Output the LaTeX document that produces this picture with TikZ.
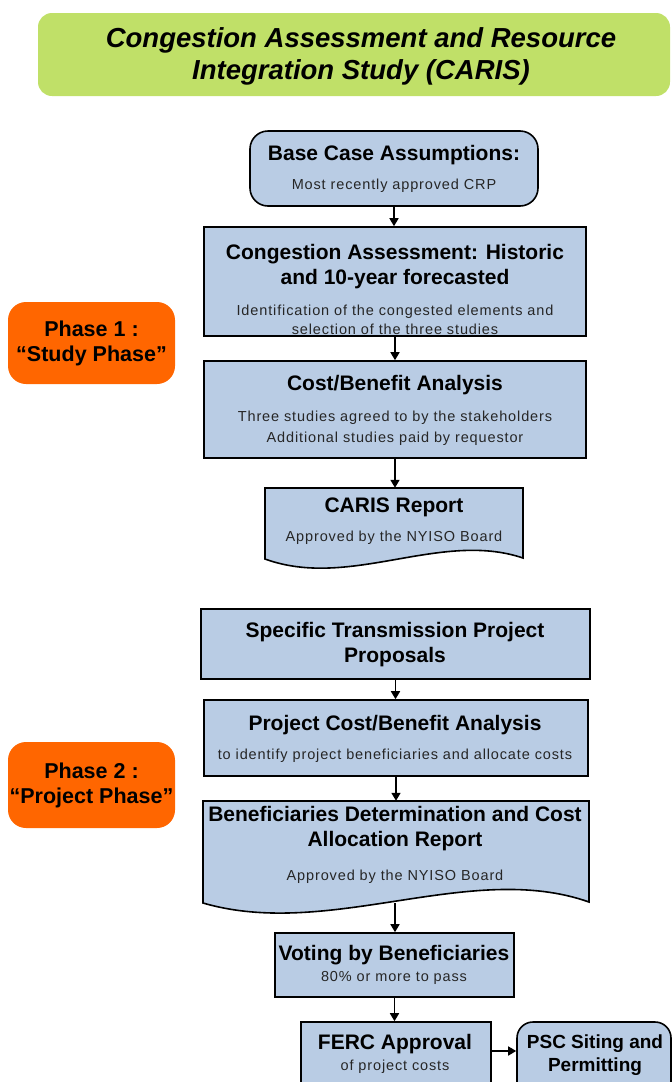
\documentclass[tikz,border=0pt]{standalone}
\usepackage{fontspec}
\setmainfont{Liberation Sans}
\newfontfamily\subfnt[LetterSpace=6]{Liberation Sans}
\usetikzlibrary{arrows.meta}
\definecolor{boxblue}{RGB}{185,204,228}
\definecolor{phaseor}{RGB}{255,102,0}
\definecolor{bannergreen}{RGB}{192,224,104}
\begin{document}
\begin{tikzpicture}[x=1pt,y=-1pt,
  box/.style={draw=black, line width=1.6pt, fill=boxblue, inner sep=0pt},
  ttl/.style={font=\fontsize{21}{25}\selectfont\bfseries, align=center, inner sep=0pt},
  sub/.style={font=\subfnt\fontsize{14.5}{18.5}\selectfont, align=center, inner sep=0pt, text=black!85},
  arr/.style={line width=1.6pt, -{Triangle[length=8pt,width=9pt]}},
  phase/.style={fill=phaseor, rounded corners=18pt, inner sep=0pt, minimum width=167pt,
    font=\fontsize{21.5}{25}\selectfont\bfseries, align=center},
  docline/.style={draw=black, line width=1.6pt, fill=boxblue}]
\useasboundingbox (0,0) rectangle (672,1082);
\clip (0,0) rectangle (672,1082);

% banner
\node[fill=bannergreen, rounded corners=14pt, minimum width=632pt, minimum height=83pt, inner sep=0pt] (banner) at (354,54.5) {};
\node[font=\fontsize{27.5}{32}\selectfont\bfseries\itshape, align=center, inner sep=0pt] (bannerT) at (361,56)
  {Congestion Assessment and Resource\\Integration Study (CARIS)};

% phase labels
\node[phase, minimum height=82pt] (ph1) at (91.5,343) {Phase 1 :\\“Study Phase”};
\node[phase, minimum height=86pt] (ph2) at (91.5,785) {Phase 2 :\\“Project Phase”};

% phase 1 boxes
\node[box, rounded corners=18pt, minimum width=288pt, minimum height=75pt] (base) at (394,168.5) {};
\node[ttl] (baseT) at (394,155) {Base Case Assumptions:};
\node[sub] (baseS) at (394,186) {Most recently approved CRP};

\node[box, minimum width=382pt, minimum height=109pt] (cong) at (395,281.5) {};
\node[ttl] (congT) at (395,266.5) {Congestion Assessment: Historic\\and 10-year forecasted};
\node[sub] (congS) at (395,320) {Identification of the congested elements and\\selection of the three studies};

\node[box, minimum width=382pt, minimum height=97pt] (cost) at (395,409.5) {};
\node[ttl] (costT) at (395,385) {Cost/Benefit Analysis};
\node[sub, font=\subfnt\fontsize{14.5}{21}\selectfont] (costS) at (395,428.5) {Three studies agreed to by the stakeholders\\Additional studies paid by requestor};

\node[inner sep=0pt, minimum width=258pt, minimum height=71pt] (caris) at (394,523.5) {};
\path[docline] (265,488) -- (523,488) -- (523,558) .. controls (440,530) and (350,590) .. (265,559) -- cycle;
\node[ttl] (carisT) at (394,507) {CARIS Report};
\node[sub] (carisS) at (394,538) {Approved by the NYISO Board};

% phase 2 boxes
\node[box, minimum width=389pt, minimum height=70pt] (spec) at (395.5,644) {};
\node[ttl] (specT) at (395,644.5) {Specific Transmission Project\\Proposals};

\node[box, minimum width=384pt, minimum height=76pt] (pcb) at (396,738) {};
\node[ttl] (pcbT) at (395,725) {Project Cost/Benefit Analysis};
\node[sub] (pcbS) at (395,756) {to identify project beneficiaries and allocate costs};

\node[inner sep=0pt, minimum width=386pt, minimum height=102pt] (ben) at (396,852) {};
\path[docline] (203,801) -- (589,801) -- (589,902) .. controls (470,860) and (330,940) .. (203,903) -- cycle;
\node[ttl] (benT) at (395,829) {Beneficiaries Determination and Cost\\Allocation Report};
\node[sub] (benS) at (395,877) {Approved by the NYISO Board};
\coordinate (benout) at (395,903);

\node[box, minimum width=239pt, minimum height=64pt] (vote) at (394.5,965) {};
\node[ttl] (voteT) at (394,955) {Voting by Beneficiaries};
\node[sub] (voteS) at (394,978) {80\% or more to pass};

\node[box, minimum width=190pt, minimum height=78pt] (ferc) at (396,1061) {};
\node[ttl] (fercT) at (395,1044) {FERC Approval};
\node[sub] (fercS) at (395,1067) {of project costs};

\node[box, rounded corners=16pt, minimum width=154pt, minimum height=78pt] (psc) at (594,1061) {};
\node[ttl, font=\fontsize{19}{23}\selectfont\bfseries] (pscT) at (595,1055.5) {PSC Siting and\\Permitting};

% arrows
\draw[arr] (base.south) -- (base.south |- cong.north);
\draw[arr] (cong.south) -- (cong.south |- cost.north);
\draw[arr] (cost.south) -- (cost.south |- caris.north);
\draw[arr] (spec.south) -- (spec.south |- pcb.north);
\draw[arr] (pcb.south) -- (pcb.south |- ben.north);
\draw[arr] (benout) -- (benout |- vote.north);
\draw[arr] (vote.south) -- (vote.south |- ferc.north);
\draw[arr] ([yshift=10pt]ferc.east) -- ([yshift=10pt]psc.west);
\end{tikzpicture}
\end{document}
